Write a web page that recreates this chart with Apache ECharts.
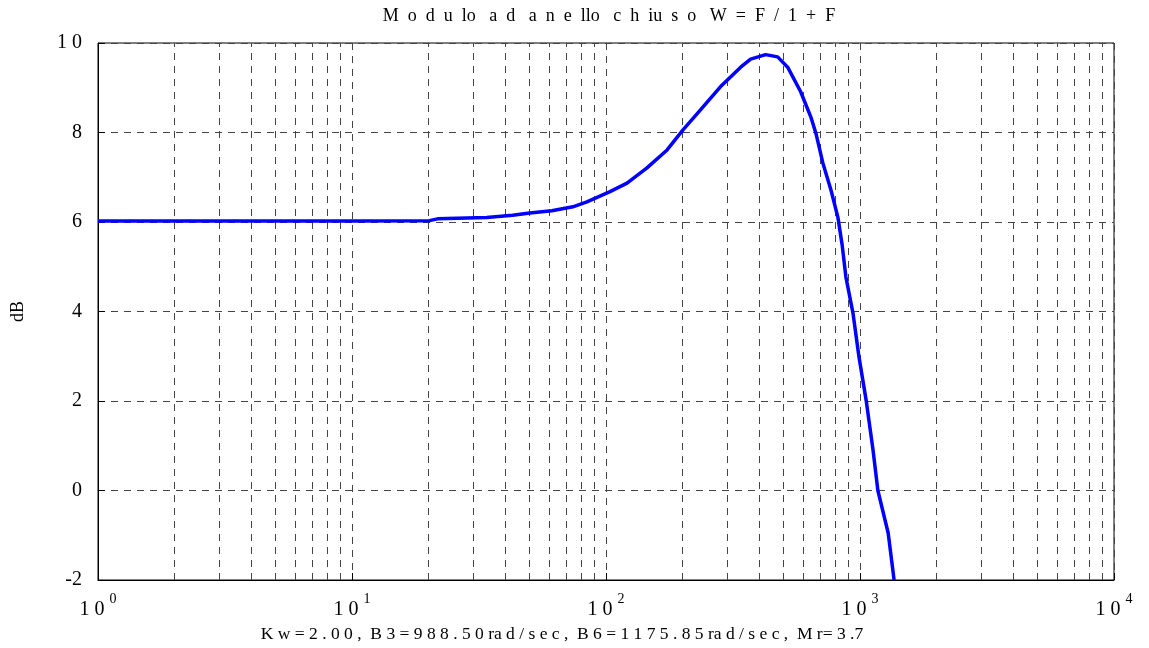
<!DOCTYPE html>
<html>
<head>
<meta charset="utf-8">
<script src="https://cdn.jsdelivr.net/npm/echarts@6/dist/echarts.min.js"></script>
<style>
  html, body { margin: 0; padding: 0; background: #fff; }
  #chart { width: 1149px; height: 648px; }
</style>
</head>
<body>
<div id="chart"></div>
<script>
// Closed-loop magnitude |W| = |F/(1+F)| in dB versus angular frequency (rad/s)
const omega = [1, 5, 10, 20.2, 21.7, 33.9, 42.9, 50.1, 61.2, 74.1, 84.1, 103.7, 121, 145, 174, 201, 235, 282, 339, 371, 425, 474, 519, 584, 640, 670, 714, 768, 818, 850, 880, 938, 988.5, 1057, 1125, 1175.85, 1291, 1362];
const magDb = [6.02, 6.02, 6.02, 6.03, 6.07, 6.10, 6.15, 6.20, 6.25, 6.34, 6.45, 6.68, 6.87, 7.21, 7.61, 8.06, 8.50, 9.02, 9.46, 9.64, 9.74, 9.69, 9.46, 8.91, 8.35, 7.99, 7.32, 6.72, 6.11, 5.50, 4.77, 3.97, 3.02, 2.02, 0.91, 0.00, -0.95, -2.0];

const decades = [1, 10, 100, 1000, 10000];
const yTicks = [-2, 0, 2, 4, 6, 8, 10];
const titleText = 'M  o  d  u  lo   a  d   a  n  e  llo   c  h  iu  s  o   W  =  F  /  1  +  F';
const footerText = 'K w = 2 . 0 0 ,  B 3 = 9 8 8 . 5 0 ra d / s e c ,  B 6 = 1 1 7 5 . 8 5 ra d / s e c ,  M r= 3 .7';
const yName = 'dB';

// minor log grid positions 2..9 within each decade
const minorX = [];
for (let i = 0; i < decades.length - 1; i++) {
  for (let m = 2; m <= 9; m++) minorX.push(decades[i] * m);
}

const FONT = 'Liberation Serif';
const dash = [7, 6];
const gridColor = '#444';

const chart = echarts.init(document.getElementById('chart'), null, { renderer: 'canvas' });
chart.setOption({
  animation: false,
  backgroundColor: '#fff',
  title: [
    {
      text: titleText, left: 604, top: 2, textAlign: 'center',
      textStyle: { fontFamily: FONT, fontSize: 18, fontWeight: 'normal', color: '#000' }
    },
    {
      text: footerText, left: 557, top: 620, textAlign: 'center',
      textStyle: { fontFamily: FONT, fontSize: 17.5, fontWeight: 'normal', color: '#000' }
    }
  ],
  grid: { left: 98, right: 35, top: 43, bottom: 68, show: true, borderColor: '#000', borderWidth: 1 },
  xAxis: {
    type: 'log', logBase: 10, min: decades[0], max: decades[decades.length - 1],
    axisLine: { show: true, onZero: false, lineStyle: { color: '#000', width: 1 } },
    axisTick: { show: true, inside: true, length: 7, lineStyle: { color: '#000' } },
    splitLine: { show: true, lineStyle: { color: gridColor, width: 1, type: dash } },
    axisLabel: {
      margin: 12,
      formatter: function (v) {
        const e = Math.round(Math.log10(v));
        return '{b|1 0}{s|' + e + '}';
      },
      rich: {
        b: { fontFamily: FONT, fontSize: 20, color: '#000', padding: [8, 0, 0, 0] },
        s: { fontFamily: FONT, fontSize: 14, color: '#000', padding: [0, 0, 14, 5] }
      }
    }
  },
  yAxis: {
    type: 'value', min: yTicks[0], max: yTicks[yTicks.length - 1], interval: 2,
    name: yName, nameLocation: 'middle', nameGap: 71, nameRotate: 90,
    nameTextStyle: { fontFamily: FONT, fontSize: 18, color: '#000' },
    axisLine: { show: true, onZero: false, lineStyle: { color: '#000', width: 1 } },
    axisTick: { show: true, inside: true, length: 7, lineStyle: { color: '#000' } },
    splitLine: { show: true, lineStyle: { color: gridColor, width: 1, type: dash } },
    axisLabel: {
      margin: 16, fontFamily: FONT, fontSize: 20, color: '#000',
      formatter: function (v) { return String(v).split('').join(' ').replace('- ', '-'); }
    }
  },
  series: [
    {
      name: 'minor', type: 'line', data: [], z: 1, silent: true,
      markLine: {
        silent: true, symbol: ['none', 'none'], label: { show: false },
        lineStyle: { color: gridColor, width: 1, type: dash },
        data: minorX.map(v => ({ xAxis: v }))
      }
    },
    {
      name: 'W', type: 'line', z: 5,
      data: omega.map((w, i) => [w, magDb[i]]),
      showSymbol: false, smooth: false,
      lineStyle: { color: '#0000ff', width: 3.5 },
      itemStyle: { color: '#0000ff' }
    }
  ]
});
</script>
</body>
</html>
